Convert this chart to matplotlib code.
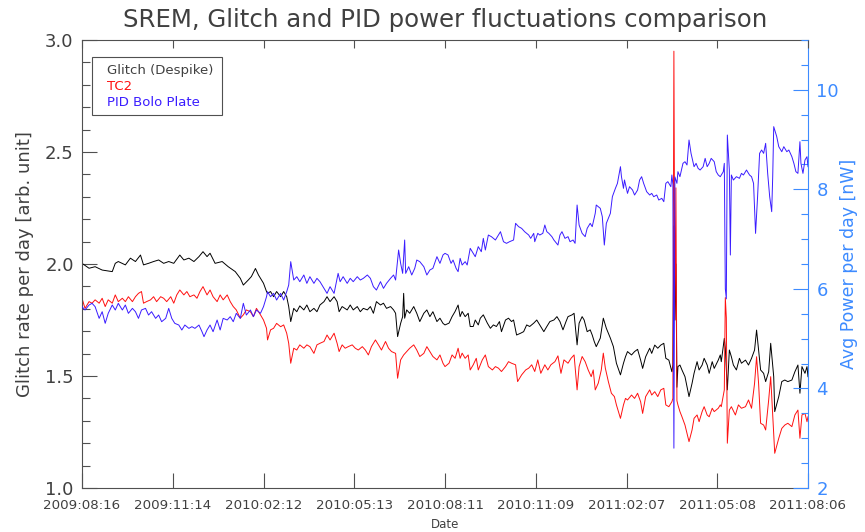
import datetime as dt
import matplotlib
matplotlib.use("Agg")
import matplotlib.pyplot as plt
import matplotlib.dates as mdates
from matplotlib.ticker import MultipleLocator, FormatStrFormatter
from matplotlib.patches import Rectangle

# ---------------------------------------------------------------- data
start_date = dt.date(2009, 8, 16)
tick_step_days = 90
n_days = 720

# Glitch rate (despiked), days since start
glitch_days = [
    0, 7, 13, 20, 30, 33, 36, 43, 48, 53, 58, 61, 66, 71, 76, 81, 86, 91, 97, 101,
    106, 111, 116, 120, 124, 127, 132, 139, 145, 152, 157, 160, 165, 168, 172, 175, 180, 183,
    184, 187, 190, 193, 197, 200, 203, 205, 207, 210, 213, 216, 220, 223, 226, 230, 233, 236, 240, 243,
    246, 250, 253, 255, 258, 263, 266, 269, 273, 276, 279, 283, 286, 289, 292, 296, 299, 302, 306, 309,
    311, 313, 316, 318, 319, 320, 322, 325, 329, 332, 335, 339, 342, 345, 348, 352, 355, 358,
    360, 364, 367, 370, 373, 375, 377, 380, 383, 385, 388, 390, 393, 395, 398, 402, 405, 408, 411, 414,
    416, 420, 423, 426, 428, 431, 435, 438, 441, 444, 448, 451, 454, 458, 461, 464, 468, 471, 474, 477,
    480, 482, 486, 488, 491, 493, 496, 498, 501, 504, 506, 508, 510, 514, 517, 520, 524, 527, 530, 534, 537,
    539, 541, 545, 548, 551, 554, 556, 559, 563, 565, 568, 571, 574, 577, 579, 582, 585, 586, 587, 588,
    589, 590, 591, 593, 595, 598, 602, 605, 607, 610, 612, 615, 617, 620, 622, 625, 627, 631, 633, 634,
    637, 638, 640, 642, 644, 646, 649, 652, 654, 658, 661, 664, 667, 669, 671, 673, 676, 678, 681, 683,
    686, 687, 691, 694, 697, 700, 704, 707, 710, 712, 714, 717, 719, 720,
]
glitch_rate = [
    2.003, 1.981, 1.988, 1.973, 1.966, 2.003, 2.011, 1.996, 2.026, 2.011, 2.040, 1.996, 2.003, 2.011, 2.018, 2.003, 2.011, 2.003, 2.040, 2.018,
    2.026, 2.011, 2.033, 2.055, 2.033, 2.048, 2.003, 2.011, 1.988, 1.966, 1.936, 1.906, 1.929, 1.944, 1.980, 1.951, 1.914, 1.877,
    1.869, 1.877, 1.854, 1.877, 1.854, 1.877, 1.854, 1.810, 1.743, 1.802, 1.787, 1.813, 1.795, 1.817, 1.787, 1.802, 1.787, 1.817, 1.832, 1.854,
    1.832, 1.854, 1.832, 1.787, 1.810, 1.795, 1.817, 1.795, 1.810, 1.787, 1.802, 1.795, 1.810, 1.780, 1.832, 1.817, 1.825, 1.802, 1.810, 1.795,
    1.780, 1.676, 1.735, 1.765, 1.869, 1.758, 1.795, 1.780, 1.810, 1.780, 1.743, 1.780, 1.795, 1.765, 1.787, 1.743, 1.758, 1.735,
    1.728, 1.736, 1.765, 1.788, 1.817, 1.765, 1.788, 1.765, 1.780, 1.721, 1.721, 1.750, 1.728, 1.758, 1.773, 1.736, 1.713, 1.728, 1.721, 1.743,
    1.698, 1.750, 1.758, 1.743, 1.750, 1.683, 1.691, 1.698, 1.728, 1.721, 1.736, 1.750, 1.728, 1.698, 1.721, 1.743, 1.750, 1.765, 1.743, 1.706,
    1.743, 1.765, 1.773, 1.780, 1.639, 1.736, 1.765, 1.750, 1.698, 1.706, 1.683, 1.654, 1.631, 1.669, 1.758, 1.713, 1.669, 1.631, 1.557, 1.505, 1.557,
    1.586, 1.609, 1.594, 1.609, 1.619, 1.571, 1.534, 1.586, 1.624, 1.601, 1.638, 1.624, 1.638, 1.646, 1.579, 1.571, 1.519, 1.550, 2.170, 1.750,
    2.000, 1.450, 1.542, 1.549, 1.527, 1.497, 1.408, 1.467, 1.512, 1.564, 1.527, 1.549, 1.579, 1.549, 1.512, 1.564, 1.534, 1.571, 1.594, 1.564,
    1.668, 1.624, 1.438, 1.616, 1.586, 1.549, 1.527, 1.579, 1.557, 1.571, 1.549, 1.579, 1.616, 1.705, 1.616, 1.527, 1.512, 1.475, 1.519, 1.646,
    1.497, 1.341, 1.408, 1.475, 1.482, 1.475, 1.482, 1.519, 1.549, 1.423, 1.542, 1.512, 1.542, 1.497,
]

# TC2 rate, days since start
tc2_days = [
    0, 3, 7, 10, 13, 17, 20, 23, 26, 30, 33, 36, 40, 43, 46, 50, 53, 56, 59, 61,
    64, 68, 71, 74, 78, 81, 84, 88, 91, 94, 97, 101, 104, 107, 111, 114, 117, 120, 124, 127,
    130, 134, 137, 140, 144, 147, 150, 153, 157, 160, 163, 167, 170, 173, 177, 180, 183,
    184, 187, 190, 193, 197, 200, 203, 205, 207, 210, 213, 216, 220, 223, 226, 230, 233, 236, 240, 243,
    246, 250, 253, 255, 258, 261, 264, 268, 271, 274, 278, 281, 284, 287, 291, 294, 297, 301, 304, 307,
    311, 313, 316, 319, 322, 325, 329, 332, 335, 339, 342, 345, 348, 352, 355, 358,
    360, 364, 367, 370, 373, 375, 377, 380, 383, 385, 388, 391, 393, 397, 400, 403, 407, 410, 413, 416,
    420, 423, 426, 430, 432, 436, 440, 443, 446, 449, 452, 455, 459, 462, 465, 469, 472, 475, 478, 482,
    485, 488, 491, 493, 496, 499, 502, 505, 507, 509, 512, 515, 517, 519, 522, 525, 528, 530, 534, 537,
    539, 541, 545, 548, 551, 554, 556, 559, 563, 565, 568, 571, 574, 577, 579, 582, 585, 586, 587, 588,
    589, 590, 591, 593, 595, 598, 602, 605, 607, 610, 612, 615, 617, 620, 622, 625, 627, 631, 633, 634,
    637, 638, 639, 640, 642, 644, 648, 651, 654, 658, 661, 664, 667, 669, 671, 673, 676, 678, 681, 683,
    686, 687, 691, 694, 697, 700, 704, 707, 710, 712, 714, 717, 719, 720,
]
tc2_rate = [
    1.847, 1.802, 1.832, 1.825, 1.840, 1.825, 1.847, 1.810, 1.840, 1.825, 1.862, 1.832, 1.847, 1.832, 1.854, 1.832, 1.854, 1.869, 1.877, 1.825,
    1.832, 1.840, 1.854, 1.832, 1.854, 1.847, 1.832, 1.854, 1.825, 1.862, 1.884, 1.862, 1.877, 1.854, 1.862, 1.847, 1.877, 1.899, 1.862, 1.884,
    1.854, 1.832, 1.862, 1.840, 1.862, 1.832, 1.810, 1.795, 1.758, 1.773, 1.795, 1.787, 1.765, 1.802, 1.773, 1.750, 1.713,
    1.661, 1.706, 1.713, 1.735, 1.720, 1.728, 1.691, 1.646, 1.557, 1.624, 1.616, 1.639, 1.624, 1.639, 1.631, 1.601, 1.639, 1.646, 1.654, 1.683,
    1.661, 1.691, 1.646, 1.609, 1.639, 1.624, 1.631, 1.639, 1.624, 1.616, 1.631, 1.616, 1.594, 1.631, 1.661, 1.639, 1.616, 1.654, 1.624, 1.609,
    1.601, 1.490, 1.572, 1.594, 1.609, 1.624, 1.639, 1.616, 1.587, 1.601, 1.631, 1.609, 1.587, 1.572, 1.594, 1.557,
    1.542, 1.557, 1.594, 1.579, 1.624, 1.579, 1.602, 1.579, 1.594, 1.527, 1.550, 1.579, 1.527, 1.572, 1.594, 1.542, 1.527, 1.542, 1.535, 1.520,
    1.542, 1.564, 1.557, 1.550, 1.475, 1.505, 1.527, 1.535, 1.550, 1.520, 1.572, 1.512, 1.550, 1.527, 1.550, 1.564, 1.590, 1.512, 1.572, 1.557,
    1.579, 1.594, 1.438, 1.542, 1.587, 1.564, 1.527, 1.497, 1.527, 1.438, 1.468, 1.527, 1.602, 1.535, 1.475, 1.423, 1.408, 1.371, 1.311, 1.371,
    1.400, 1.393, 1.415, 1.400, 1.423, 1.385, 1.333, 1.408, 1.438, 1.415, 1.430, 1.408, 1.438, 1.445, 1.371, 1.363, 1.385, 1.400, 2.950, 1.750,
    2.340, 1.390, 1.371, 1.341, 1.318, 1.281, 1.207, 1.259, 1.311, 1.326, 1.296, 1.341, 1.363, 1.326, 1.318, 1.356, 1.341, 1.356, 1.371, 1.363,
    1.438, 1.850, 1.760, 1.200, 1.348, 1.363, 1.326, 1.371, 1.356, 1.363, 1.393, 1.356, 1.467, 1.586, 1.467, 1.289, 1.281, 1.259, 1.393, 1.497,
    1.244, 1.155, 1.222, 1.266, 1.281, 1.289, 1.274, 1.326, 1.348, 1.222, 1.326, 1.333, 1.296, 1.318,
]

# PID bolometer plate average power [nW], days since start
pid_days = [
    0, 3, 7, 10, 13, 17, 20, 23, 26, 30, 33, 36, 40, 43, 46, 50, 53, 56, 59, 63,
    66, 69, 73, 76, 79, 83, 86, 89, 92, 96, 99, 102, 106, 109, 112, 116, 119, 121, 124, 127,
    130, 134, 137, 140, 144, 147, 150, 153, 157, 160, 163, 167, 170, 173, 177, 180, 183,
    184, 187, 190, 193, 197, 200, 203, 205, 207, 210, 213, 216, 220, 223, 226, 230, 233, 236, 240, 243,
    246, 250, 254, 256, 259, 263, 266, 269, 273, 276, 279, 283, 286, 289, 292, 296, 299, 302, 306, 309,
    311, 314, 316, 318, 320, 321, 324, 327, 330, 332, 335, 339, 342, 345, 348, 352, 355, 358,
    360, 363, 366, 368, 371, 373, 375, 377, 380, 382, 385, 388, 390, 393, 396, 398, 400, 403, 406, 410,
    413, 415, 418, 421, 424, 428, 430, 433, 436, 439, 443, 445, 448, 449, 452, 454, 457, 459, 461, 463,
    466, 468, 472, 474, 476, 479, 482, 484, 487, 489, 491, 493, 496, 499, 501, 504, 506, 509, 510, 514,
    516, 518, 520, 524, 526, 529, 531, 534, 535, 537, 538,
    541, 543, 546, 548, 551, 553, 555, 557, 560, 563, 565, 567, 570, 572, 575, 577, 579, 581, 584, 585,
    586, 587, 588, 590, 591, 593, 596, 598, 600, 602, 604, 607, 609, 611, 613, 616, 618, 620, 622, 624,
    627, 629, 631, 633, 636, 637, 638, 639, 640, 642, 643, 644, 646, 649, 652, 654, 656, 659, 662, 664,
    666, 668, 670, 672, 674, 676, 678, 680, 682, 684, 685, 686, 689, 691, 694, 696, 699, 701, 704, 706,
    708, 710, 712, 713, 715, 717, 719, 720,
]
pid_power = [
    5.643, 5.576, 5.676, 5.710, 5.643, 5.408, 5.542, 5.308, 5.509, 5.676, 5.576, 5.710, 5.576, 5.676, 5.509, 5.609, 5.542, 5.408, 5.576, 5.609,
    5.475, 5.542, 5.408, 5.475, 5.341, 5.408, 5.609, 5.408, 5.308, 5.274, 5.174, 5.274, 5.207, 5.241, 5.207, 5.274, 5.140, 5.040, 5.174, 5.274,
    5.140, 5.375, 5.174, 5.408, 5.375, 5.442, 5.341, 5.509, 5.408, 5.710, 5.475, 5.576, 5.442, 5.576, 5.509, 5.643, 5.843,
    5.944, 5.843, 5.910, 5.776, 5.910, 5.776, 5.944, 6.078, 6.547, 6.178, 6.245, 6.145, 6.279, 6.111, 6.245, 6.111, 6.212, 6.145, 6.011, 5.910,
    6.044, 5.910, 6.312, 6.145, 6.245, 6.111, 6.212, 6.145, 6.245, 6.178, 6.212, 6.279, 6.212, 6.044, 5.977, 6.145, 6.011, 6.111, 6.212, 6.279,
    6.178, 6.781, 6.513, 6.312, 6.982, 6.312, 6.446, 6.279, 6.413, 6.580, 6.547, 6.446, 6.279, 6.379, 6.413, 6.647, 6.513, 6.681,
    6.714, 6.681, 6.513, 6.580, 6.413, 6.346, 6.614, 6.480, 6.547, 6.480, 6.815, 6.714, 6.647, 6.848, 6.747, 7.015, 6.781, 7.082, 7.049, 6.982,
    7.082, 7.149, 6.948, 6.915, 6.948, 6.982, 7.317, 7.250, 7.216, 7.149, 7.082, 7.015, 7.116, 6.948, 7.116, 7.082, 7.116, 7.283, 7.149, 7.116,
    7.049, 6.982, 6.881, 7.082, 7.149, 7.015, 7.049, 6.948, 6.982, 6.915, 7.685, 7.283, 7.116, 7.049, 7.216, 7.317, 7.250, 7.518, 7.685, 7.618,
    7.451, 6.881, 7.317, 7.518, 7.853, 8.020, 8.120, 8.455, 8.255, 8.020, 8.188,
    7.919, 8.053, 7.986, 7.886, 7.986, 8.187, 8.254, 8.120, 7.953, 7.886, 7.919, 7.852, 7.886, 7.785, 7.819, 7.752, 8.120, 8.154, 8.053, 8.288,
    8.100, 2.800, 8.250, 8.120, 8.355, 8.254, 8.522, 8.555, 8.489, 8.991, 8.723, 8.455, 8.522, 8.422, 8.388, 8.455, 8.622, 8.455, 8.522, 8.622,
    8.555, 8.355, 8.288, 8.254, 8.355, 8.522, 6.000, 5.800, 9.091, 8.388, 6.680, 8.288, 8.187, 8.254, 8.221, 8.321, 8.288, 8.388, 8.288, 8.254,
    8.120, 7.115, 7.852, 8.723, 8.790, 8.723, 8.924, 8.321, 7.852, 7.551, 8.254, 9.259, 9.058, 8.857, 8.756, 8.857, 8.756, 8.790, 8.656, 8.522,
    8.355, 8.321, 8.957, 8.522, 8.321, 8.589, 8.656, 8.455,
]

legend_labels = ["Glitch (Despike)", "TC2", "PID Bolo Plate"]
title = "SREM, Glitch and PID power fluctuations comparison"

# ---------------------------------------------------------------- style
TEXT = "#404040"
AXIS = "#505050"
RIGHT = "#3d8bff"
C_GLITCH = "#000000"
C_TC2 = "#ff1010"
C_PID = "#3a1cff"
plt.rcParams["font.family"] = ["DejaVu Sans"]


def to_dates(days):
    return [start_date + dt.timedelta(days=int(d)) for d in days]


W, H = 865, 532
fig = plt.figure(figsize=(W / 100, H / 100), dpi=100)
ax = fig.add_axes([82 / W, 1 - 488 / H, 726 / W, 448 / H])
ax2 = ax.twinx()

ax.plot(to_dates(glitch_days), glitch_rate, color=C_GLITCH, lw=0.7)
ax.plot(to_dates(tc2_days), tc2_rate, color=C_TC2, lw=0.7)
ax2.plot(to_dates(pid_days), pid_power, color=C_PID, lw=0.7)

# x axis: dates every 90 days
tick_dates = to_dates(range(0, n_days + 1, tick_step_days))
ax.set_xlim(tick_dates[0], tick_dates[-1])
ax.set_xticks(tick_dates)
ax.xaxis.set_major_formatter(mdates.DateFormatter("%Y:%m:%d"))
ax.tick_params(axis="x", which="major", direction="in", length=10.8, width=0.8,
               color=AXIS, labelsize=9.6, labelcolor=TEXT, pad=8, top=False)
ax.set_xlabel("Date", fontsize=8.5, color=TEXT, labelpad=4)

# short ticks along the top edge
axt = ax.twiny()
axt.set_xlim(ax.get_xlim())
axt.set_xticks(ax.get_xticks())
axt.tick_params(axis="x", direction="in", length=6, width=0.8, color=AXIS,
                labeltop=False, labelbottom=False)
for s in axt.spines.values():
    s.set_visible(False)

# left y axis
ax.set_ylim(1.0, 3.0)
ax.yaxis.set_major_locator(MultipleLocator(0.5))
ax.yaxis.set_minor_locator(MultipleLocator(0.1))
ax.yaxis.set_major_formatter(FormatStrFormatter("%.1f"))
ax.tick_params(axis="y", which="major", direction="in", length=10.8, width=0.8,
               color=AXIS, labelsize=13, labelcolor=TEXT, pad=6, right=False)
ax.tick_params(axis="y", which="minor", direction="in", length=5.4, width=0.8,
               color=AXIS, right=False)
ax.set_ylabel("Glitch rate per day [arb. unit]", fontsize=13, color=TEXT, labelpad=8)

for name in ("left", "top", "bottom"):
    ax.spines[name].set_color(AXIS)
    ax.spines[name].set_linewidth(0.8)
ax.spines["right"].set_visible(False)

# right y axis
ax2.set_ylim(2, 11)
ax2.yaxis.set_major_locator(MultipleLocator(2))
ax2.yaxis.set_minor_locator(MultipleLocator(0.5))
ax2.tick_params(axis="y", which="major", direction="in", length=10.8, width=0.8,
                color=RIGHT, labelsize=13, labelcolor=RIGHT, pad=6)
ax2.tick_params(axis="y", which="minor", direction="in", length=5, width=0.8, color=RIGHT)
ax2.set_ylabel("Avg Power per day [nW]", fontsize=12.5, color=RIGHT, labelpad=1)
for name in ("left", "top", "bottom"):
    ax2.spines[name].set_visible(False)
ax2.spines["right"].set_color(RIGHT)
ax2.spines["right"].set_linewidth(0.8)

# legend box with coloured labels
ax2.add_patch(Rectangle((0.0138, 0.833), 0.179, 0.129, transform=ax2.transAxes,
                        facecolor="white", edgecolor=AXIS, lw=0.8, zorder=5))
for i, (lab, col) in enumerate(zip(legend_labels, [TEXT, C_TC2, C_PID])):
    ax2.text(0.0344, 0.933 - i * 0.0357, lab, transform=ax2.transAxes, color=col,
             fontsize=9.5, va="center", ha="left", zorder=6)

fig.text(445 / W, 1 - 20 / H, title, ha="center", va="center", fontsize=17.6, color=TEXT)

fig.savefig("out.png", dpi=100)
